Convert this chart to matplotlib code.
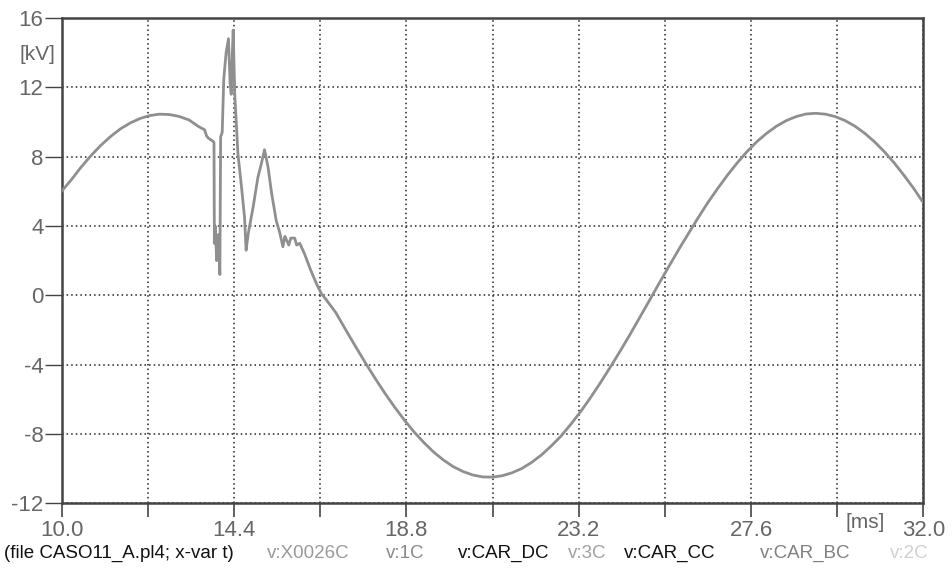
import matplotlib
matplotlib.use("Agg")
import matplotlib.pyplot as plt

# ---- data (time in ms, voltage in kV) ----
t_pre = [10.0, 10.25, 10.5, 10.75, 11.0, 11.25, 11.5, 11.75, 12.0, 12.25, 12.5,
         12.75, 13.0, 13.25, 13.5, 13.65, 13.70, 13.75, 13.88]
v_pre = [6.0, 6.67, 7.40, 8.06, 8.65, 9.16, 9.60, 9.94, 10.20, 10.37, 10.45,
         10.43, 10.32, 10.12, 9.73, 9.55, 9.20, 9.06, 8.86]

t_trans = [13.89, 13.90, 13.92, 13.96, 14.00, 14.04, 14.06, 14.10, 14.14, 14.20,
           14.26, 14.30, 14.33, 14.36, 14.38, 14.42, 14.50, 14.59, 14.67, 14.71,
           14.76, 14.80, 14.89, 15.01, 15.10, 15.18, 15.27, 15.36, 15.48, 15.57,
           15.65, 15.70, 15.74, 15.80, 15.85, 15.95, 16.00, 16.08, 16.20, 16.35,
           16.50, 16.63, 16.76]
v_trans = [8.8, 3.0, 4.0, 2.0, 3.5, 1.2, 9.15, 9.4, 12.5, 14.0,
           14.8, 12.3, 11.6, 14.0, 15.3, 11.6, 8.2, 6.3, 4.5, 2.6,
           3.5, 4.0, 5.1, 6.8, 7.6, 8.4, 7.4, 5.9, 4.3, 3.6,
           2.8, 3.4, 3.2, 2.9, 3.3, 3.3, 2.9, 3.0, 2.4, 1.5,
           0.7, 0.1, -0.27]

t_post = [17.0, 17.25, 17.5, 17.75, 18.0, 18.25, 18.5, 18.75, 19.0, 19.25, 19.5,
          19.75, 20.0, 20.25, 20.5, 20.75, 21.0, 21.25, 21.5, 21.75, 22.0,
          22.25, 22.5, 22.75, 23.0, 23.25, 23.5, 23.75, 24.0, 24.25, 24.5,
          24.75, 25.0, 25.25, 25.5, 25.75, 26.0, 26.25, 26.5, 26.75, 27.0,
          27.25, 27.5, 27.75, 28.0, 28.25, 28.5, 28.75, 29.0, 29.25, 29.5,
          29.75, 30.0, 30.25, 30.5, 30.75, 31.0, 31.25, 31.5, 31.75, 32.0]
v_post = [-1.00, -1.98, -2.94, -3.88, -4.78, -5.64, -6.45, -7.20, -7.89, -8.50, -9.05,
          -9.51, -9.89, -10.17, -10.37, -10.48, -10.49, -10.41, -10.24, -9.99, -9.64,
          -9.21, -8.69, -8.12, -7.44, -6.71, -5.91, -5.06, -4.17, -3.25, -2.30,
          -1.31, -0.32, 0.68, 1.66, 2.63, 3.56, 4.48, 5.36, 6.17, 6.94,
          7.65, 8.30, 8.87, 9.35, 9.76, 10.08, 10.31, 10.46, 10.50, 10.45,
          10.31, 10.08, 9.76, 9.35, 8.86, 8.29, 7.65, 6.93, 6.17, 5.33]

x_ticks = [10.0, 12.2, 14.4, 16.6, 18.8, 21.0, 23.2, 25.4, 27.6, 29.8, 32.0]
x_labels = ["10.0", "", "14.4", "", "18.8", "", "23.2", "", "27.6", "", "32.0"]
y_ticks = [-12, -8, -4, 0, 4, 8, 12, 16]

legend_items = [("(file CASO11_A.pl4; x-var t)", "#111111", 4),
                ("v:X0026C", "#9a9a9a", 267),
                ("v:1C", "#8a8a8a", 386),
                ("v:CAR_DC", "#111111", 458),
                ("v:3C", "#a0a0a0", 568),
                ("v:CAR_CC", "#111111", 624),
                ("v:CAR_BC", "#808080", 760),
                ("v:2C", "#d0d0d0", 890)]

plt.rcParams['font.family'] = ['Liberation Sans', 'DejaVu Sans']

fig = plt.figure(figsize=(9.52, 5.69), dpi=100)
ax = fig.add_axes([0.0647, 0.1155, 0.9053, 0.8529])

t_all = t_pre + t_trans + t_post
v_all = v_pre + v_trans + v_post
ax.plot(t_all, v_all, color="#8f8f8f", lw=2.0, zorder=3)

ax.set_xlim(10.0, 32.0)
ax.set_ylim(-12, 16)
ax.set_xticks(x_ticks)
ax.set_xticklabels(x_labels)
ax.set_yticks(y_ticks)
ax.set_yticklabels([str(v) for v in y_ticks])

ax.grid(True, color="#222222", linestyle=(0, (1, 2)), lw=1.1)
for s in ax.spines.values():
    s.set_color("#444444")
    s.set_linewidth(1.8)

ax.tick_params(axis='x', direction='out', length=10, width=1.2, color="#444444",
               labelsize=16, labelcolor="#666666", pad=2)
ax.tick_params(axis='y', direction='out', length=12, width=1.0, color="#444444",
               labelsize=16, labelcolor="#666666", pad=1)

fig.text(37 / 952, 1 - 54 / 569, "[kV]", fontsize=15, color="#666666",
         ha="center", va="center")
fig.text(865 / 952, 1 - 522 / 569, "[ms]", fontsize=15, color="#666666",
         ha="center", va="center")

for txt, col, xp in legend_items:
    fig.text(xp / 952, 1 - 553 / 569, txt, fontsize=13.5, color=col,
             ha="left", va="center")

fig.savefig("out.png", dpi=100)
